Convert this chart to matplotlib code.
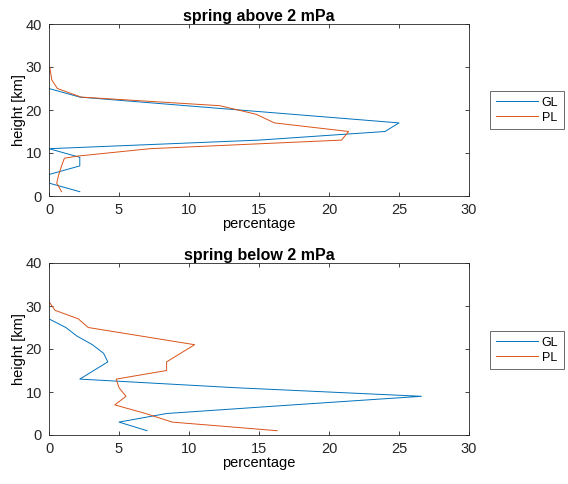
import matplotlib
matplotlib.use("Agg")
import matplotlib.pyplot as plt

plt.rcParams['font.family'] = ['Liberation Sans', 'DejaVu Sans']

# --- data: spring above 2 mPa ---
above_gl_h = [1, 3, 5, 7, 9, 11, 13, 15, 17, 19, 21, 23, 25]
above_gl_v = [2.2, 0, 0, 2.2, 2.2, 0, 15, 24, 25, 17.4, 9.8, 2.2, 0]
above_pl_h = [1, 3, 5, 7, 8.8, 9.3, 11, 13, 15, 17, 19, 21, 23, 25, 27, 30]
above_pl_v = [0.9, 0.55, 0.7, 0.9, 1.1, 2.1, 7.2, 20.9, 21.4, 16.1, 14.8, 12.2, 2.3, 0.6, 0.2, 0.05]

# --- data: spring below 2 mPa ---
below_gl_h = [1, 3, 5, 7, 9, 11, 13, 15, 17, 19, 21, 23, 25, 27]
below_gl_v = [7.0, 5.0, 8.4, 17.4, 26.6, 13.3, 2.2, 3.2, 4.2, 3.9, 3.1, 2.0, 1.2, 0]
below_pl_h = [1, 3, 5, 7, 9, 11, 13, 15, 17, 19, 21, 23, 25, 27, 29, 31]
below_pl_v = [16.3, 8.8, 6.9, 4.7, 5.5, 5.0, 4.8, 8.4, 8.4, 9.4, 10.4, 6.6, 2.8, 2.1, 0.43, 0]

titles = ["spring above 2 mPa", "spring below 2 mPa"]
series_names = ["GL", "PL"]
x_ticks = [0, 5, 10, 15, 20, 25, 30]
y_ticks = [0, 10, 20, 30, 40]

blue = "#0072BD"
orange = "#D95319"
axcol = "#262626"

fig = plt.figure(figsize=(5.68, 4.84), dpi=100)
W, H = 568, 484
boxes = [(49, 24, 469, 196), (49, 263, 469, 435)]
datasets = [
    (above_gl_v, above_gl_h, above_pl_v, above_pl_h),
    (below_gl_v, below_gl_h, below_pl_v, below_pl_h),
]
legend_tops = [91, 331]

for i in range(2):
    l, t, r, b = boxes[i]
    ax = fig.add_axes([l / W, 1 - b / H, (r - l) / W, (b - t) / H])
    gv, gh, pv, ph = datasets[i]
    ax.plot(gv, gh, color=blue, lw=0.7, label=series_names[0])
    ax.plot(pv, ph, color=orange, lw=0.7, label=series_names[1])
    ax.set_xlim(0, 30)
    ax.set_ylim(0, 40)
    ax.set_xticks(x_ticks)
    ax.set_yticks(y_ticks)
    ax.tick_params(direction='in', top=True, right=True, length=3, width=0.6,
                   colors=axcol, labelsize=10.5)
    ax.tick_params(axis='x', pad=5)
    ax.tick_params(axis='y', pad=5)
    for s in ax.spines.values():
        s.set_color(axcol)
        s.set_linewidth(0.6)
    ax.set_title(titles[i], fontsize=11.5, fontweight='bold', pad=2)
    ax.set_xlabel("percentage", fontsize=10.5, labelpad=0)
    ax.set_ylabel("height [km]", fontsize=10.5, labelpad=0)
    leg = ax.legend(loc='upper left', bbox_to_anchor=(490 / W, 1 - legend_tops[i] / H),
                    bbox_transform=fig.transFigure, fontsize=9, frameon=True,
                    fancybox=False, handlelength=3.4, handletextpad=0.3,
                    borderpad=0.45, labelspacing=0.25, borderaxespad=0)
    leg.get_frame().set_edgecolor(axcol)
    leg.get_frame().set_linewidth(0.6)

fig.savefig("out.png", dpi=100)
